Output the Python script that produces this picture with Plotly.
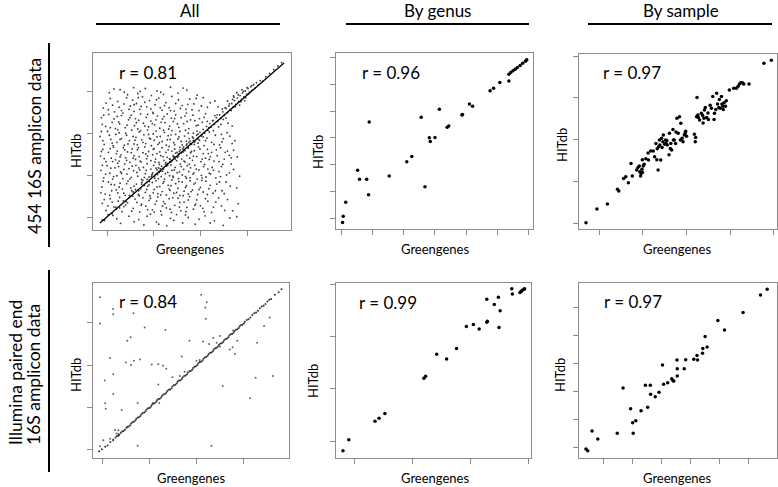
import plotly.graph_objects as go

W, H = 778, 487

# ---------------- data (arbitrary units) ----------------
col_titles = ["All", "By genus", "By sample"]
row_title_top = "454 16S amplicon data"
row_title_bottom = ["Illumina paired end", "16S amplicon data"]
r_labels = ["r = 0.81", "r = 0.96", "r = 0.97", "r = 0.84", "r = 0.99", "r = 0.97"]
x_title = "Greengenes"
y_title = "HITdb"

# Panel 1: 454, all taxa (cloud + diagonal band + fitted line)
all454_cloud = [
    (0.05, 2.98), (0.28, 3.05), (0.44, 2.93), (0.57, 3.10), (0.66, 2.96), (0.82, 3.08), (0.95, 2.91),
    (1.07, 3.02), (1.21, 2.94), (1.36, 3.11), (1.52, 2.97), (1.71, 3.04), (1.93, 2.92),
    (-0.08, 2.61), (0.07, 2.84), (0.16, 2.52), (0.23, 2.77), (0.31, 2.55), (0.42, 2.86), (0.50, 2.66),
    (0.58, 2.53), (0.63, 2.72), (0.70, 2.58), (0.76, 2.88), (0.85, 2.64), (0.91, 2.79), (0.98, 2.51),
    (1.03, 2.69), (1.11, 2.85), (1.18, 2.56), (1.26, 2.74), (1.33, 2.62), (1.39, 2.89), (1.44, 2.54),
    (1.53, 2.81), (1.61, 2.67), (1.69, 2.58), (1.77, 2.83), (1.86, 2.71), (1.97, 2.55), (2.06, 2.86),
    (2.15, 2.63), (2.31, 2.78), (2.47, 2.59), (2.72, 2.87),
    (-0.12, 2.38), (-0.03, 2.17), (0.04, 2.46), (0.11, 2.27), (0.18, 2.12), (0.22, 2.41), (0.27, 2.23),
    (0.34, 2.49), (0.39, 2.14), (0.46, 2.33), (0.52, 2.44), (0.59, 2.19), (0.61, 2.36), (0.66, 2.11),
    (0.72, 2.47), (0.78, 2.25), (0.84, 2.39), (0.89, 2.16), (0.94, 2.30), (0.99, 2.48), (1.02, 2.21),
    (1.08, 2.42), (1.13, 2.13), (1.19, 2.35), (1.24, 2.26), (1.29, 2.47), (1.34, 2.18), (1.38, 2.37),
    (1.42, 2.29), (1.47, 2.45), (1.54, 2.15), (1.59, 2.38), (1.64, 2.24), (1.70, 2.49), (1.75, 2.12),
    (1.79, 2.33), (1.84, 2.44), (1.91, 2.19), (1.98, 2.36), (2.04, 2.27), (2.11, 2.48), (2.18, 2.14),
    (2.26, 2.31), (2.36, 2.45), (2.44, 2.22), (2.55, 2.37), (2.68, 2.18),
    (-0.15, 1.93), (-0.06, 1.74), (0.01, 2.05), (0.08, 1.86), (0.13, 1.71), (0.19, 1.98), (0.21, 1.79),
    (0.26, 2.02), (0.31, 1.88), (0.37, 1.72), (0.42, 1.96), (0.48, 1.83), (0.53, 2.08), (0.58, 1.75),
    (0.62, 1.91), (0.65, 1.73), (0.69, 2.04), (0.74, 1.85), (0.79, 1.97), (0.83, 1.76), (0.87, 2.09),
    (0.91, 1.89), (0.95, 1.71), (0.99, 1.99), (1.01, 1.84), (1.05, 2.06), (1.09, 1.74), (1.14, 1.93),
    (1.18, 1.81), (1.23, 2.03), (1.27, 1.72), (1.31, 1.95), (1.35, 1.86), (1.39, 2.07), (1.43, 1.78),
    (1.47, 1.98), (1.52, 1.87), (1.56, 2.05), (1.61, 1.73), (1.66, 1.94), (1.70, 1.82), (1.74, 2.01),
    (1.78, 1.76), (1.83, 1.92), (1.87, 1.74), (1.93, 2.06), (1.98, 1.84), (2.03, 1.97), (2.08, 1.71),
    (2.14, 1.89), (2.19, 2.04), (2.24, 1.79), (2.32, 1.96), (2.41, 1.73), (2.49, 1.88), (2.57, 2.02),
    (2.74, 1.83),
    (-0.14, 1.46), (-0.09, 1.62), (-0.02, 1.33), (0.03, 1.55), (0.09, 1.41), (0.14, 1.67), (0.18, 1.37),
    (0.22, 1.58), (0.26, 1.34), (0.30, 1.49), (0.35, 1.66), (0.40, 1.42), (0.44, 1.56), (0.49, 1.31),
    (0.54, 1.63), (0.58, 1.47), (0.61, 1.38), (0.65, 1.61), (0.69, 1.45), (0.73, 1.32), (0.77, 1.54),
    (0.81, 1.68), (0.85, 1.40), (0.89, 1.57), (0.94, 1.35), (0.98, 1.49), (1.01, 1.64), (1.04, 1.39),
    (1.07, 1.52), (1.11, 1.31), (1.15, 1.47), (1.18, 1.66), (1.22, 1.36), (1.26, 1.55), (1.29, 1.43),
    (1.33, 1.69), (1.36, 1.33), (1.39, 1.58), (1.42, 1.44), (1.45, 1.63), (1.49, 1.35), (1.53, 1.51),
    (1.56, 1.67), (1.60, 1.39), (1.63, 1.56), (1.67, 1.32), (1.71, 1.48), (1.74, 1.65), (1.77, 1.41),
    (1.79, 1.54), (1.83, 1.36), (1.87, 1.59), (1.92, 1.45), (1.96, 1.68), (2.01, 1.33), (2.06, 1.52),
    (2.11, 1.41), (2.15, 1.62), (2.19, 1.38), (2.24, 1.55), (2.29, 1.34), (2.36, 1.47), (2.43, 1.66),
    (2.51, 1.39), (2.58, 1.58), (2.66, 1.42), (2.79, 1.44),
    (-0.13, 1.12), (-0.07, 0.94), (0.00, 1.23), (0.06, 1.05), (0.12, 0.91), (0.17, 1.18), (0.21, 0.99),
    (0.25, 1.21), (0.29, 1.08), (0.34, 0.92), (0.38, 1.27), (0.43, 1.03), (0.47, 1.16), (0.52, 0.95),
    (0.57, 1.11), (0.62, 1.24), (0.66, 0.98), (0.70, 1.13), (0.74, 0.90), (0.78, 1.19), (0.82, 1.04),
    (0.86, 1.28), (0.90, 0.96), (0.94, 1.15), (0.98, 1.06), (1.02, 0.93), (1.05, 1.17), (1.08, 1.02),
    (1.12, 1.26), (1.16, 0.97), (1.19, 1.10), (1.23, 0.91), (1.27, 1.22), (1.30, 1.07), (1.34, 0.99),
    (1.37, 1.25), (1.39, 1.12), (1.42, 0.95), (1.46, 1.19), (1.50, 1.06), (1.53, 0.92), (1.57, 1.27),
    (1.61, 1.01), (1.64, 1.14), (1.68, 0.97), (1.72, 1.23), (1.75, 1.09), (1.78, 0.94), (1.79, 1.18),
    (1.84, 1.03), (1.88, 1.24), (1.93, 0.91), (1.97, 1.13), (2.02, 1.00), (2.07, 1.21), (2.12, 0.96),
    (2.16, 1.15), (2.19, 1.05), (2.25, 1.19), (2.33, 0.94), (2.40, 1.09), (2.48, 1.26), (2.56, 1.01),
    (2.71, 1.14), (2.84, 0.98),
    (-0.11, 0.72), (-0.04, 0.55), (0.03, 0.84), (0.10, 0.63), (0.16, 0.77), (0.23, 0.58), (0.28, 0.81),
    (0.33, 0.67), (0.39, 0.52), (0.45, 0.86), (0.51, 0.70), (0.56, 0.60), (0.63, 0.79), (0.67, 0.54),
    (0.72, 0.68), (0.77, 0.88), (0.82, 0.59), (0.87, 0.74), (0.92, 0.51), (0.97, 0.83), (1.01, 0.66),
    (1.05, 0.87), (1.09, 0.56), (1.13, 0.73), (1.18, 0.61), (1.22, 0.85), (1.27, 0.53), (1.31, 0.76),
    (1.35, 0.64), (1.39, 0.89), (1.43, 0.57), (1.47, 0.80), (1.52, 0.69), (1.56, 0.52), (1.61, 0.84),
    (1.65, 0.62), (1.70, 0.75), (1.74, 0.55), (1.78, 0.87), (1.83, 0.65), (1.89, 0.82), (1.94, 0.54),
    (2.00, 0.71), (2.06, 0.60), (2.12, 0.86), (2.18, 0.68), (2.27, 0.57), (2.35, 0.79), (2.46, 0.63),
    (2.55, 0.84), (2.78, 0.70),
    (-0.10, 0.33), (-0.02, 0.16), (0.07, 0.44), (0.15, 0.24), (0.24, 0.38), (0.32, 0.13), (0.40, 0.29),
    (0.48, 0.47), (0.56, 0.21), (0.64, 0.35), (0.70, 0.12), (0.77, 0.46), (0.83, 0.26), (0.90, 0.40),
    (0.97, 0.17), (1.03, 0.31), (1.09, 0.48), (1.15, 0.14), (1.21, 0.37), (1.27, 0.22), (1.33, 0.44),
    (1.38, 0.11), (1.45, 0.28), (1.52, 0.45), (1.58, 0.15), (1.65, 0.36), (1.71, 0.23), (1.77, 0.49),
    (1.85, 0.19), (1.92, 0.41), (2.00, 0.27), (2.08, 0.13), (2.16, 0.38), (2.28, 0.24), (2.39, 0.46),
    (2.52, 0.16), (2.81, 0.32),
    (-0.05, -0.08), (0.13, 0.04), (0.29, -0.15), (0.47, 0.02), (0.68, -0.06), (0.79, -0.19), (0.93, 0.07),
    (1.06, -0.12), (1.17, 0.05), (1.28, -0.21), (1.36, -0.03), (1.49, 0.06), (1.62, -0.14), (1.74, -0.01),
    (1.89, -0.17), (2.10, 0.03), (2.30, -0.09), (2.49, -0.20), (2.78, 0.01),
]
all454_cloud_more = [
    (0.15, 3.07), (0.71, 3.01), (1.15, 2.99), (1.63, 3.09), (0.37, 2.99),
    (-0.02, 2.73), (0.12, 2.68), (0.36, 2.71), (0.55, 2.80), (0.81, 2.75), (1.06, 2.81), (1.23, 2.67),
    (1.47, 2.72), (1.73, 2.70), (1.91, 2.84), (2.21, 2.74), (0.67, 2.86),
    (0.03, 2.57), (0.26, 2.63), (0.47, 2.58), (0.73, 2.65), (0.94, 2.59), (1.14, 2.62), (1.36, 2.55),
    (1.57, 2.60), (1.82, 2.57), (2.02, 2.66), (2.38, 2.64), (0.58, 2.69),
    (-0.07, 2.44), (0.15, 2.35), (0.31, 2.43), (0.49, 2.38), (0.68, 2.32), (0.87, 2.46), (1.05, 2.33),
    (1.22, 2.41), (1.45, 2.36), (1.67, 2.42), (1.88, 2.31), (2.08, 2.39), (2.31, 2.43), (2.49, 2.34),
    (-0.10, 2.22), (0.07, 2.14), (0.25, 2.28), (0.43, 2.20), (0.63, 2.26), (0.81, 2.18), (0.97, 2.24),
    (1.16, 2.27), (1.32, 2.11), (1.51, 2.23), (1.72, 2.29), (1.95, 2.20), (2.15, 2.29), (2.39, 2.16),
    (2.59, 2.25),
    (-0.12, 2.05), (0.05, 1.96), (0.23, 2.09), (0.40, 2.01), (0.56, 1.93), (0.72, 2.07), (0.89, 1.98),
    (1.07, 1.92), (1.21, 2.08), (1.37, 1.97), (1.54, 1.92), (1.68, 2.08), (1.85, 2.01), (2.06, 1.92),
    (2.28, 2.07), (2.45, 1.98), (2.63, 1.94),
    (-0.09, 1.83), (0.11, 1.77), (0.28, 1.86), (0.45, 1.75), (0.60, 1.84), (0.77, 1.79), (0.93, 1.87),
    (1.12, 1.78), (1.29, 1.85), (1.45, 1.73), (1.59, 1.81), (1.76, 1.88), (1.95, 1.77), (2.11, 1.83),
    (2.29, 1.74), (2.46, 1.80), (2.68, 1.76),
    (-0.12, 1.57), (0.07, 1.64), (0.20, 1.52), (0.38, 1.61), (0.52, 1.54), (0.67, 1.66), (0.83, 1.51),
    (0.99, 1.62), (1.13, 1.56), (1.31, 1.61), (1.47, 1.53), (1.62, 1.64), (1.81, 1.57), (1.99, 1.63),
    (2.17, 1.52), (2.34, 1.61), (2.53, 1.55), (2.71, 1.60),
    (-0.06, 1.40), (0.12, 1.33), (0.28, 1.44), (0.42, 1.36), (0.56, 1.41), (0.71, 1.34), (0.87, 1.46),
    (1.03, 1.32), (1.20, 1.45), (1.35, 1.38), (1.51, 1.43), (1.65, 1.34), (1.85, 1.46), (2.04, 1.39),
    (2.21, 1.45), (2.40, 1.33), (2.62, 1.48),
    (-0.10, 1.24), (0.08, 1.17), (0.23, 1.29), (0.36, 1.14), (0.54, 1.22), (0.68, 1.18), (0.84, 1.12),
    (1.00, 1.24), (1.14, 1.16), (1.29, 1.28), (1.44, 1.13), (1.59, 1.21), (1.76, 1.27), (1.91, 1.15),
    (2.09, 1.26), (2.28, 1.12), (2.45, 1.21), (2.66, 1.27),
    (-0.03, 1.03), (0.14, 0.97), (0.31, 1.05), (0.49, 0.91), (0.64, 1.07), (0.80, 0.95), (0.96, 1.01),
    (1.10, 0.92), (1.25, 1.04), (1.41, 0.98), (1.55, 1.08), (1.70, 0.93), (1.86, 1.06), (2.04, 0.94),
    (2.22, 1.03), (2.43, 0.97), (2.62, 1.06),
    (-0.08, 0.86), (0.09, 0.78), (0.26, 0.72), (0.42, 0.80), (0.58, 0.74), (0.75, 0.83), (0.90, 0.77),
    (1.07, 0.72), (1.20, 0.81), (1.37, 0.75), (1.54, 0.85), (1.68, 0.71), (1.86, 0.79), (2.03, 0.88),
    (2.21, 0.76), (2.41, 0.84), (2.64, 0.74),
    (-0.13, 0.58), (0.06, 0.52), (0.20, 0.65), (0.36, 0.57), (0.53, 0.63), (0.69, 0.51), (0.85, 0.66),
    (0.99, 0.58), (1.15, 0.53), (1.33, 0.67), (1.49, 0.59), (1.63, 0.51), (1.80, 0.61), (1.97, 0.66),
    (2.15, 0.54), (2.32, 0.63), (2.51, 0.56),
    (-0.06, 0.42), (0.11, 0.36), (0.27, 0.47), (0.44, 0.34), (0.60, 0.43), (0.74, 0.31), (0.93, 0.45),
    (1.06, 0.38), (1.24, 0.32), (1.41, 0.46), (1.56, 0.35), (1.74, 0.41), (1.90, 0.31), (2.11, 0.44),
    (2.33, 0.36), (2.58, 0.42),
    (0.02, 0.27), (0.20, 0.19), (0.36, 0.25), (0.53, 0.14), (0.73, 0.28), (0.87, 0.18), (1.01, 0.12),
    (1.19, 0.26), (1.35, 0.19), (1.55, 0.24), (1.69, 0.13), (1.88, 0.28), (2.05, 0.21), (2.24, 0.11),
    (2.45, 0.27), (2.69, 0.15),
    (0.21, -0.04), (0.58, -0.11), (0.86, 0.02), (1.11, -0.17), (1.43, -0.08), (1.68, 0.05), (1.97, -0.05),
    (2.21, -0.14), (2.63, -0.02),
]
all454_band = [
    (-0.10, -0.07), (0.02, 0.06), (0.11, 0.08), (0.19, 0.24), (0.27, 0.22), (0.35, 0.39), (0.41, 0.37),
    (0.48, 0.52), (0.55, 0.50), (0.61, 0.66), (0.68, 0.63), (0.74, 0.79), (0.80, 0.76), (0.86, 0.91),
    (0.91, 0.85), (0.97, 1.03), (1.02, 0.98), (1.07, 1.13), (1.12, 1.07), (1.17, 1.22), (1.21, 1.15),
    (1.26, 1.31), (1.30, 1.24), (1.34, 1.40), (1.38, 1.33), (1.42, 1.47), (1.46, 1.39), (1.50, 1.55),
    (1.53, 1.46), (1.57, 1.61), (1.60, 1.54), (1.64, 1.68), (1.67, 1.59), (1.71, 1.75), (1.74, 1.66),
    (1.78, 1.82), (1.81, 1.74), (1.85, 1.89), (1.88, 1.80), (1.92, 1.96), (1.95, 1.87), (1.99, 2.03),
    (2.02, 1.94), (2.06, 2.10), (2.09, 2.01), (2.13, 2.17), (2.16, 2.08), (2.20, 2.24), (2.23, 2.15),
    (2.27, 2.31), (2.30, 2.22), (2.34, 2.38), (2.37, 2.29), (2.41, 2.45), (2.44, 2.36), (2.48, 2.52),
    (2.51, 2.43), (2.55, 2.60), (2.58, 2.50), (2.61, 2.66), (2.64, 2.57), (2.67, 2.72), (2.70, 2.63),
    (2.73, 2.79), (2.76, 2.70), (2.79, 2.85), (2.82, 2.77), (2.85, 2.91), (2.88, 2.82), (2.90, 2.97),
    (2.93, 2.88), (2.96, 3.02), (2.99, 2.94), (3.02, 3.08), (3.05, 2.99), (3.08, 3.12), (3.11, 3.04),
    (3.14, 3.17), (3.17, 3.09), (3.20, 3.22), (3.24, 3.16), (3.28, 3.27), (3.33, 3.25), (3.40, 3.36),
    (3.48, 3.44), (3.57, 3.53), (3.66, 3.62), (3.74, 3.70),
    (2.62, 2.71), (2.69, 2.82), (2.75, 2.64), (2.81, 2.93), (2.87, 2.76), (2.92, 3.01), (2.97, 2.86),
    (3.03, 2.95), (2.58, 2.78), (2.66, 2.55), (2.78, 2.98), (2.95, 2.79), (3.10, 3.15), (2.53, 2.62),
    (2.84, 2.68), (3.00, 3.10), (2.71, 2.90), (2.89, 3.05),
    (1.05, 1.03), (1.15, 1.10), (1.25, 1.27), (1.35, 1.32), (1.45, 1.44), (1.55, 1.57), (1.65, 1.62),
    (1.75, 1.79), (1.85, 1.83), (0.95, 0.97), (0.85, 0.83), (1.10, 1.18), (1.40, 1.36), (1.70, 1.72),
    (1.95, 1.99),
]
all454_fit_x = [-0.15, 3.79]
all454_fit_y = [-0.14, 3.69]

# Panel 2: 454, by genus
genus454 = [
    (0.05, -0.17), (0.07, 0.07), (0.15, 0.59), (0.53, 1.79), (0.59, 1.45), (0.82, 1.45), (0.88, 0.87),
    (0.90, 3.60), (1.54, 1.57), (2.10, 2.11), (2.26, 2.30), (2.56, 3.77), (2.68, 1.17), (2.82, 3.01),
    (2.85, 2.87), (3.00, 3.02), (3.14, 4.07), (3.39, 3.40), (3.44, 3.45), (3.86, 3.86), (3.88, 3.88),
    (4.10, 4.27), (4.20, 4.19), (4.76, 4.77), (4.87, 4.86), (5.07, 5.08), (5.36, 5.13), (5.36, 5.38),
    (5.42, 5.45), (5.49, 5.52), (5.56, 5.57), (5.63, 5.64), (5.72, 5.71), (5.80, 5.80), (5.89, 5.87),
    (5.93, 5.93),
]

# Panel 3: 454, by sample
sample454 = [
    (-0.30, 0.01), (-0.05, 0.34), (0.19, 0.46), (0.42, 0.81), (0.45, 0.77), (0.56, 1.07), (0.61, 1.11),
    (0.67, 0.97), (0.73, 1.43), (0.76, 1.13), (0.86, 1.27), (0.89, 1.33), (0.92, 1.37), (0.93, 1.23),
    (0.95, 1.13), (0.96, 1.19), (0.98, 1.29), (0.99, 1.21), (1.01, 1.37), (1.03, 1.41), (0.99, 1.52),
    (1.07, 1.54), (1.12, 1.68), (1.13, 1.51), (1.18, 1.73), (1.24, 1.73), (1.27, 1.59), (1.30, 1.91),
    (1.32, 1.52), (1.33, 1.78), (1.35, 1.27), (1.36, 1.83), (1.38, 1.99), (1.39, 1.87), (1.41, 1.51),
    (1.43, 2.03), (1.44, 1.81), (1.46, 1.95), (1.47, 2.11), (1.50, 1.89), (1.52, 1.99), (1.53, 1.91),
    (1.55, 1.97), (1.56, 1.87), (1.60, 1.64), (1.61, 2.15), (1.63, 1.79), (1.64, 1.91), (1.66, 1.75),
    (1.69, 2.24), (1.70, 1.99), (1.72, 1.99), (1.75, 1.91), (1.76, 2.18), (1.78, 2.51), (1.81, 2.15),
    (1.84, 2.55), (1.86, 1.99), (1.87, 2.39), (1.90, 2.03), (1.92, 1.95), (1.95, 2.11), (1.97, 2.15),
    (1.98, 2.20), (2.00, 2.08), (2.18, 2.13), (2.20, 1.95), (2.21, 2.05), (2.23, 2.55), (2.24, 3.01),
    (2.26, 2.59), (2.27, 2.53), (2.30, 2.47), (2.34, 2.63), (2.37, 2.58), (2.38, 2.40), (2.40, 2.51),
    (2.41, 2.71), (2.43, 2.77), (2.46, 2.53), (2.49, 2.64), (2.50, 2.48), (2.54, 2.82), (2.57, 2.75),
    (2.60, 3.03), (2.63, 2.48), (2.64, 2.63), (2.67, 2.72), (2.69, 3.11), (2.71, 2.85), (2.74, 2.77),
    (2.75, 2.96), (2.77, 2.75), (2.80, 3.03), (2.81, 2.85), (2.83, 2.80), (2.84, 2.72), (2.86, 2.88),
    (2.89, 2.80), (2.91, 2.93), (2.98, 3.19), (3.08, 3.23), (3.14, 3.23), (3.18, 3.28), (3.21, 3.33),
    (3.24, 3.36), (3.28, 3.36), (3.31, 3.33), (3.43, 3.33), (3.77, 3.83), (3.94, 3.90),
]

# Panel 4: Illumina, all taxa
allillu_off = [
    (-0.06, 3.61), (-0.06, 2.99), (0.22, 3.33), (0.22, 3.21), (0.65, 3.23), (0.89, 2.89), (1.33, 2.83),
    (0.52, 2.58), (0.59, 2.66), (0.15, 2.17), (0.49, 2.06), (0.60, 2.00), (0.66, 2.10), (0.79, 2.13),
    (1.04, 2.01), (1.18, 2.02), (1.28, 1.98), (1.35, 1.91), (0.04, 1.63), (0.22, 1.78), (0.22, 1.31),
    (0.05, 1.09), (0.06, 0.96), (0.40, 0.93), (0.74, 1.10), (1.18, 1.54), (1.68, 2.20), (1.84, 2.58),
    (2.09, 3.67), (2.21, 3.49), (2.18, 3.37), (2.19, 3.10), (2.13, 2.56), (2.26, 2.50), (2.35, 2.64),
    (2.49, 2.69), (2.42, 2.53), (2.55, 1.50), (2.70, 2.37), (2.76, 2.42), (2.81, 2.26), (2.86, 2.58),
    (3.13, 1.21), (3.25, 1.70), (3.28, 2.53), (3.43, 2.93), (3.55, 3.13), (3.62, 1.74), (-0.06, 0.07),
    (0.74, 0.08), (2.31, 0.08), (0.01, 0.21), (0.15, 0.25), (0.22, 0.23), (0.29, 0.37), (0.33, 0.45),
    (0.26, 0.45), (0.33, 0.36), (1.06, 1.10), (1.20, 1.10), (1.48, 1.71), (1.64, 1.74), (1.74, 1.84),
    (1.99, 2.10), (2.06, 2.12), (2.49, 2.44), (2.77, 2.82),
]
allillu_diag_x = [
    -0.08, -0.02, 0.05, 0.10, 0.16, 0.22, 0.27, 0.33, 0.38, 0.44, 0.50, 0.55, 0.60, 0.66, 0.71, 0.77,
    0.82, 0.88, 0.93, 0.99, 1.04, 1.10, 1.15, 1.21, 1.26, 1.32, 1.37, 1.43, 1.48, 1.54, 1.59, 1.65,
    1.70, 1.76, 1.81, 1.87, 1.92, 1.98, 2.03, 2.09, 2.14, 2.20, 2.25, 2.31, 2.36, 2.42, 2.47, 2.53,
    2.58, 2.64, 2.69, 2.75, 2.80, 2.86, 2.91, 2.97, 3.02, 3.10, 3.18, 3.26, 3.34, 3.42, 3.50, 3.58,
    3.66, 3.74, 3.80,
    0.30, 0.35, 0.41, 0.47, 0.52, 0.58, 0.63, 0.69, 0.74, 0.80, 0.85, 0.91, 0.96, 1.02, 1.07, 1.13,
    1.18, 1.24, 1.29, 1.35, 1.40, 1.46, 1.51, 1.57, 1.62, 1.68, 1.73, 1.79, 1.84, 1.90, 1.95, 2.01,
    2.06, 2.12, 2.17, 2.23, 2.28, 2.34, 2.39, 2.45, 2.50, 2.56, 2.61, 2.67, 2.72, 2.78, 2.83, 2.89,
    2.94, 3.00, 3.06, 3.14, 3.22, 3.30, 3.38, 3.46, 3.54,
]
allillu_diag_y = [
    -0.05, 0.00, 0.06, 0.09, 0.17, 0.21, 0.28, 0.32, 0.39, 0.43, 0.51, 0.54, 0.61, 0.65, 0.72, 0.76,
    0.83, 0.87, 0.94, 0.98, 1.05, 1.09, 1.16, 1.20, 1.27, 1.31, 1.38, 1.42, 1.49, 1.53, 1.60, 1.64,
    1.71, 1.75, 1.82, 1.86, 1.93, 1.97, 2.04, 2.08, 2.15, 2.19, 2.26, 2.30, 2.37, 2.41, 2.48, 2.52,
    2.59, 2.63, 2.70, 2.74, 2.81, 2.85, 2.92, 2.96, 3.03, 3.09, 3.19, 3.25, 3.35, 3.41, 3.51, 3.57,
    3.67, 3.73, 3.80,
    0.31, 0.34, 0.42, 0.46, 0.53, 0.57, 0.64, 0.68, 0.75, 0.79, 0.86, 0.90, 0.97, 1.01, 1.08, 1.12,
    1.19, 1.23, 1.30, 1.34, 1.41, 1.45, 1.52, 1.56, 1.63, 1.67, 1.74, 1.78, 1.85, 1.89, 1.96, 2.00,
    2.07, 2.11, 2.18, 2.22, 2.29, 2.33, 2.40, 2.44, 2.51, 2.55, 2.62, 2.66, 2.73, 2.77, 2.84, 2.88,
    2.95, 2.99, 3.07, 3.13, 3.23, 3.29, 3.39, 3.45, 3.55,
]

# Panel 5: Illumina, by genus
genusillu = [
    (-0.19, -0.18), (-0.09, 0.03), (0.36, 0.38), (0.43, 0.44), (0.53, 0.53), (1.20, 1.20), (1.23, 1.24),
    (1.42, 1.66), (1.59, 1.57), (1.76, 1.77), (1.93, 2.19), (2.05, 2.23), (2.15, 2.14), (2.28, 2.27),
    (2.29, 2.29), (2.28, 2.71), (2.41, 2.61), (2.48, 2.75), (2.49, 2.17), (2.51, 2.49), (2.71, 2.91),
    (2.72, 2.81), (2.85, 2.84), (2.87, 2.86), (2.89, 2.88), (2.92, 2.90), (2.93, 2.91),
]

# Panel 6: Illumina, by sample
sampleillu = [
    (-0.62, -0.07), (-0.56, -0.13), (-0.41, 0.57), (-0.21, 0.29), (0.46, 0.49), (0.66, 2.11), (0.92, 1.37),
    (0.99, 0.87), (1.01, 0.49), (1.10, 0.94), (1.28, 1.30), (1.43, 2.21), (1.51, 1.42), (1.60, 2.21),
    (1.61, 1.89), (1.77, 1.80), (1.90, 1.96), (2.02, 2.93), (2.06, 2.24), (2.20, 2.30), (2.34, 2.44),
    (2.38, 2.37), (2.41, 2.36), (2.52, 3.11), (2.53, 2.80), (2.53, 2.54), (2.77, 2.80), (2.82, 3.12),
    (3.10, 3.14), (3.21, 3.27), (3.23, 3.11), (3.40, 3.35), (3.41, 3.52), (3.49, 3.95), (3.56, 3.57),
    (3.93, 4.52), (4.16, 4.18), (4.80, 4.81), (5.40, 5.43), (5.63, 5.64),
]

# tick positions (unlabelled) per panel
ticks_x = [[0, 1, 2, 3], [0, 1, 2, 3, 4, 5, 6], [0, 1, 2, 3, 4], [0, 1, 2, 3], [0, 1, 2, 3], [0, 1, 2, 3, 4, 5]]
ticks_y = [[0, 1, 2, 3], [0, 1, 2, 3, 4, 5, 6], [0, 1, 2, 3, 4], [0, 1, 2, 3], [0, 1, 2, 3], [0, 1, 2, 3, 4, 5]]
ranges_x = [[-0.30, 3.94], [-0.16, 6.13], [-0.46, 4.07], [-0.21, 3.96], [-0.31, 3.04], [-0.86, 5.97]]
ranges_y = [[-0.31, 3.93], [-0.41, 6.18], [-0.14, 4.05], [-0.21, 3.95], [-0.32, 3.02], [-0.39, 5.86]]

# ---------------- layout geometry (pixels) ----------------
frames = [  # left, right, top, bottom
    (93, 291, 53, 230), (336, 533, 53, 229), (579, 777, 54, 229),
    (93, 289, 283, 458), (336, 531, 283, 458), (579, 777, 283, 458),
]
FONT = "Lato"


def px(x):
    return x / W


def py(y):
    return 1 - y / H


def unzip(pts):
    return [p[0] for p in pts], [p[1] for p in pts]


fig = go.Figure()

axis_names = ["", "2", "3", "4", "5", "6"]

c1x, c1y = unzip(all454_cloud + all454_cloud_more)
b1x, b1y = unzip(all454_band)
fig.add_trace(go.Scatter(x=c1x + b1x, y=c1y + b1y, mode="markers", xaxis="x", yaxis="y",
                         marker=dict(size=1.8, color="#3a3a3a")))
fig.add_trace(go.Scatter(x=all454_fit_x, y=all454_fit_y, mode="lines", xaxis="x", yaxis="y",
                         line=dict(color="black", width=1.3)))

gx, gy = unzip(genus454)
fig.add_trace(go.Scatter(x=gx, y=gy, mode="markers", xaxis="x2", yaxis="y2",
                         marker=dict(size=3.5, color="black")))
sx, sy = unzip(sample454)
fig.add_trace(go.Scatter(x=sx, y=sy, mode="markers", xaxis="x3", yaxis="y3",
                         marker=dict(size=3.5, color="black")))
ox, oy = unzip(allillu_off)
fig.add_trace(go.Scatter(x=ox, y=oy, mode="markers",
                         xaxis="x4", yaxis="y4", marker=dict(size=2, color="#666666")))
fig.add_trace(go.Scatter(x=allillu_diag_x, y=allillu_diag_y, mode="markers",
                         xaxis="x4", yaxis="y4", marker=dict(size=2, color="#333333")))
g2x, g2y = unzip(genusillu)
fig.add_trace(go.Scatter(x=g2x, y=g2y, mode="markers", xaxis="x5", yaxis="y5",
                         marker=dict(size=3.5, color="black")))
s2x, s2y = unzip(sampleillu)
fig.add_trace(go.Scatter(x=s2x, y=s2y, mode="markers", xaxis="x6", yaxis="y6",
                         marker=dict(size=3.5, color="black")))

layout = dict(
    width=W, height=H, autosize=False,
    margin=dict(l=0, r=0, t=0, b=0),
    paper_bgcolor="white", plot_bgcolor="white",
    showlegend=False,
    font=dict(family=FONT, color="black"),
)

for i, (l, r, t, b) in enumerate(frames):
    n = axis_names[i]
    common = dict(showgrid=False, zeroline=False, showline=True, mirror=True,
                  linecolor="#8c8c8c", linewidth=1, ticks="outside", ticklen=5,
                  tickwidth=1, tickcolor="#8c8c8c", showticklabels=False, fixedrange=True)
    layout["xaxis" + n] = dict(domain=[px(l), px(r)], range=ranges_x[i], tickvals=ticks_x[i],
                               anchor="y" + n, **common)
    layout["yaxis" + n] = dict(domain=[py(b), py(t)], range=ranges_y[i], tickvals=ticks_y[i],
                               anchor="x" + n, **common)

fig.update_layout(**layout)


def label(x, y, text, size, angle=0, yanchor="middle"):
    return dict(x=px(x), y=py(y), xref="paper", yref="paper", text=text, showarrow=False,
                textangle=angle, xanchor="center", yanchor=yanchor,
                font=dict(size=size, family=FONT, color="black"))


ann = []
for title, cx in zip(col_titles, [190, 437, 681]):
    ann.append(label(cx, 11, title, 17))
r_pos = [(148, 73), (391, 73), (632, 73), (148, 301), (388, 302), (633, 301)]
for lab, (cx, cy) in zip(r_labels, r_pos):
    ann.append(label(cx, cy, lab, 17))
ht_pos = [(76, 151), (318, 152), (562, 145), (76, 375), (313, 381), (560, 375)]
for cx, cy in ht_pos:
    ann.append(label(cx, cy, y_title, 13, angle=-90))
gg_pos = [(190, 249), (435, 249), (677, 249), (191, 478), (435, 478), (677, 478)]
for cx, cy in gg_pos:
    ann.append(label(cx, cy, x_title, 13))
ann.append(label(34, 146, row_title_top, 17.5, angle=-90))
ann.append(label(15.5, 447, row_title_bottom[0], 17.5, angle=-90, yanchor="bottom"))
ann.append(label(33.5, 447, row_title_bottom[1], 17.5, angle=-90, yanchor="bottom"))

shapes = []
for x0, x1 in [(96, 280), (346, 529), (588, 772)]:
    shapes.append(dict(type="line", xref="paper", yref="paper", x0=px(x0), x1=px(x1),
                       y0=py(24), y1=py(24), line=dict(color="black", width=2)))
for y0, y1 in [(43, 247), (270, 472)]:
    shapes.append(dict(type="line", xref="paper", yref="paper", x0=px(49), x1=px(49),
                       y0=py(y0), y1=py(y1), line=dict(color="black", width=2)))

fig.update_layout(annotations=ann, shapes=shapes)
fig.write_html("out.html", config={"displayModeBar": False},
               post_script="document.body.style.margin='0';document.body.style.overflow='hidden';")
